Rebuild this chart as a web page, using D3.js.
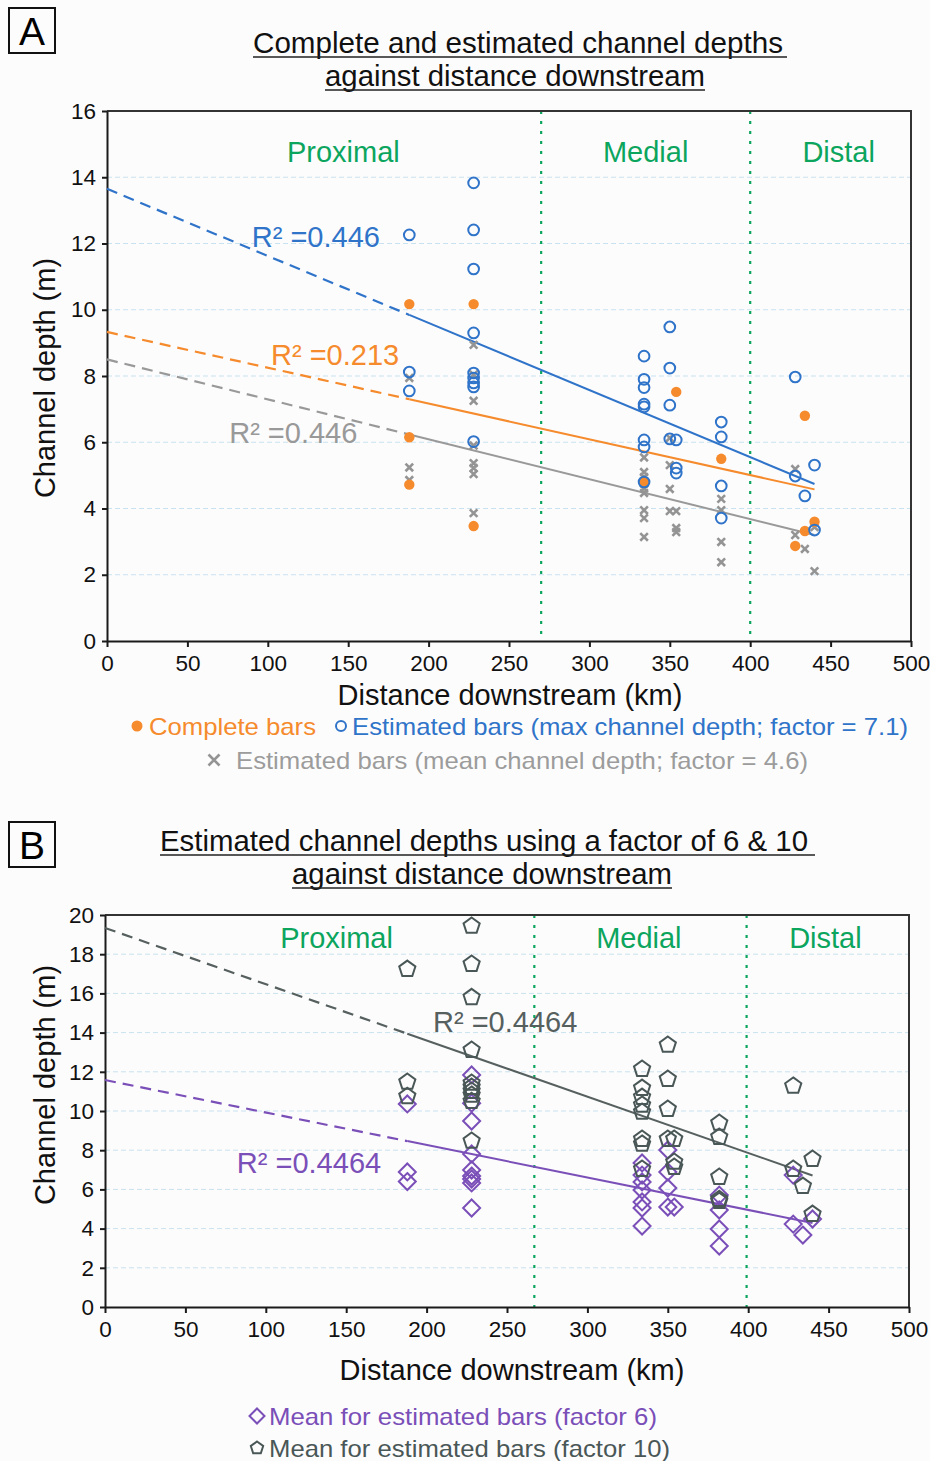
<!DOCTYPE html>
<meta charset="utf-8">
<style>
body { margin: 0; background: #fdfcfd; }
svg { display: block; font-family: "Liberation Sans", Arial, sans-serif; }
.axis path, .axis line { stroke: #1a1a1a; stroke-width: 2px; }
.axis text { font-size: 22.5px; fill: #111; }
.grid line { stroke: #c9e2ef; stroke-width: 1px; stroke-dasharray: 5,3; }
.zone { fill: #0ca55e; font-size: 29px; }
.title { font-size: 29px; fill: #111; }
.axtitle { font-size: 29px; fill: #111; }
.legend { font-size: 24px; }
</style>
<body>
<script src="https://d3js.org/d3.v7.min.js" charset="utf-8"></script>
<script>

// ---- data, panel A (distance km, depth m) ----
var completeBars = [
  [188, 10.17], [188, 6.15], [188, 4.72], [228, 10.17], [228, 3.47],
  [334, 4.8], [354, 7.52], [382, 5.5], [428, 2.87], [434, 6.8], [434, 3.32], [440, 3.6]
];
var maxDepthBars = [
  [188, 12.26], [188, 8.12], [188, 7.55],
  [228, 13.83], [228, 12.41], [228, 11.23], [228, 9.3], [228, 8.09], [228, 7.94], [228, 7.79], [228, 7.67], [228, 6.02],
  [334, 8.6], [334, 7.9], [334, 7.65], [334, 7.15], [334, 7.07], [334, 6.07], [334, 5.86], [334, 4.8],
  [350, 9.48], [350, 8.24], [350, 7.12], [350, 6.1],
  [354, 6.07], [354, 5.22], [354, 5.07],
  [382, 6.61], [382, 6.16], [382, 4.68], [382, 3.71],
  [428, 7.97], [428, 4.98], [434, 4.38], [440, 5.31], [440, 3.35]
];
var meanDepthBars = [
  [188, 7.94], [188, 5.24], [188, 4.86],
  [228, 8.94], [228, 8.04], [228, 7.25], [228, 5.9], [228, 5.37], [228, 5.22], [228, 5.04], [228, 3.86],
  [334, 5.54], [334, 5.1], [334, 4.95], [334, 4.75], [334, 4.6], [334, 4.47], [334, 3.95], [334, 3.71], [334, 3.14],
  [350, 6.13], [350, 5.31], [350, 4.59], [350, 3.92],
  [354, 3.92], [354, 3.41], [354, 3.29],
  [382, 4.29], [382, 3.95], [382, 2.99], [382, 2.38],
  [428, 5.19], [428, 3.2], [434, 2.78], [440, 3.44], [440, 2.11]
];

// ---- data, panel B ----
var factor6Bars = [
  [188, 10.36], [188, 6.89], [188, 6.4],
  [228, 11.84], [228, 10.4], [228, 9.49], [228, 7.81], [228, 6.99], [228, 6.68], [228, 6.53], [228, 6.33], [228, 5.05],
  [334, 7.35], [334, 6.73], [334, 6.38], [334, 5.97], [334, 5.36], [334, 5.05], [334, 4.13],
  [350, 8.01], [350, 6.89], [350, 6.07], [350, 5.1],
  [354, 5.1],
  [382, 5.71], [382, 4.95], [382, 3.98], [382, 3.11],
  [428, 6.73], [428, 4.23], [434, 3.67], [440, 4.49]
];
var factor10Bars = [
  [188, 17.24], [188, 11.48], [188, 10.75],
  [228, 19.44], [228, 17.5], [228, 15.8], [228, 13.11], [228, 11.43], [228, 11.22], [228, 11.02], [228, 10.82], [228, 10.5], [228, 8.47],
  [334, 12.14], [334, 11.17], [334, 10.71], [334, 10.31], [334, 9.95], [334, 8.57], [334, 8.32], [334, 7.04],
  [350, 13.37], [350, 11.63], [350, 10.1], [350, 8.57],
  [354, 8.57], [354, 7.4], [354, 7.14],
  [382, 9.39], [382, 8.67], [382, 6.63], [382, 5.5], [382, 5.4],
  [428, 11.28], [428, 7.04], [434, 6.17], [440, 7.55], [440, 4.74]
];

// trend lines: intercept (m), slope (m/km), r2
var trendMax = { a: 13.65, b: -0.02025, r2: "0.446" };
var trendComplete = { a: 9.33, b: -0.0108, r2: "0.213" };
var trendMean = { a: 8.5, b: -0.01205, r2: "0.446" };
var trendF10 = { a: 19.34, b: -0.0287, r2: "0.4464" };
var trendF6 = { a: 11.58, b: -0.01657, r2: "0.4464" };

var xTicks = [0, 50, 100, 150, 200, 250, 300, 350, 400, 450, 500];
var yTicksA = [0, 2, 4, 6, 8, 10, 12, 14, 16];
var yTicksB = [0, 2, 4, 6, 8, 10, 12, 14, 16, 18, 20];
var zones = ["Proximal", "Medial", "Distal"];
var zoneBoundsA = [270, 400];
var zoneBoundsB = [267, 399];
var trendStart = 188, trendEnd = 440;

var col = {
  blue: "#2f74c9", orange: "#f58b2c", gray: "#949494", purple: "#7a4fb8",
  dark: "#4a5757", green: "#0ca55e"
};

var svg = d3.select("body").append("svg")
    .attr("width", 930)
    .attr("height", 1461);

function pentagon(r) {
  var pts = d3.range(5).map(function(i) {
    var a = -Math.PI / 2 + i * 2 * Math.PI / 5;
    return [r * Math.cos(a), r * Math.sin(a)];
  });
  return "M" + pts.join("L") + "Z";
}
function diamond(r) {
  return "M0," + (-r) + "L" + r + ",0L0," + r + "L" + (-r) + ",0Z";
}
function cross(r) {
  return "M" + (-r) + "," + (-r) + "L" + r + "," + r + "M" + (-r) + "," + r + "L" + r + "," + (-r);
}

function drawPanel(p) {
  var x = d3.scaleLinear().domain([0, 500]).range([p.left, p.right]);
  var y = d3.scaleLinear().domain([0, p.ymax]).range([p.bottom, p.top]);
  var g = svg.append("g");

  // grid
  g.append("g").attr("class", "grid")
    .selectAll("line")
    .data(p.yTicks.filter(function(d) { return d > 0 && d < p.ymax; }))
    .enter().append("line")
    .attr("x1", p.left).attr("x2", p.right)
    .attr("y1", y).attr("y2", y);

  // zone boundaries
  g.selectAll(".zb").data(p.bounds).enter().append("line")
    .attr("x1", x).attr("x2", x)
    .attr("y1", p.top).attr("y2", p.bottom)
    .attr("stroke", col.green).attr("stroke-width", 2.2)
    .attr("stroke-dasharray", "3,7");

  // frame top/right
  g.append("path")
    .attr("d", "M" + p.left + "," + p.top + "H" + p.right + "V" + p.bottom)
    .attr("fill", "none").attr("stroke", "#333").attr("stroke-width", 2);

  // axes
  g.append("g").attr("class", "axis")
    .attr("transform", "translate(0," + p.bottom + ")")
    .call(d3.axisBottom(x).tickValues(xTicks).tickSize(6).tickSizeOuter(0).tickPadding(8));
  g.append("g").attr("class", "axis")
    .attr("transform", "translate(" + p.left + ",0)")
    .call(d3.axisLeft(y).tickValues(p.yTicks).tickSize(5).tickSizeOuter(0).tickPadding(6));

  // zone labels
  g.selectAll(".zone").data(zones).enter().append("text")
    .attr("class", "zone")
    .attr("text-anchor", "middle")
    .attr("x", function(d, i) { return x(p.zoneX[i]); })
    .attr("y", y(p.zoneY))
    .text(function(d) { return d; });

  // trend lines
  p.trends.forEach(function(t) {
    var f = function(k) { return t.a + t.b * k; };
    g.append("line")
      .attr("x1", x(0)).attr("y1", y(f(0)))
      .attr("x2", x(trendStart)).attr("y2", y(f(trendStart)))
      .attr("stroke", t.color).attr("stroke-width", 2.2)
      .attr("stroke-dasharray", "11,7");
    g.append("line")
      .attr("x1", x(trendStart)).attr("y1", y(f(trendStart)))
      .attr("x2", x(trendEnd)).attr("y2", y(f(trendEnd)))
      .attr("stroke", t.color).attr("stroke-width", 2);
    g.append("text")
      .attr("x", x(t.lx)).attr("y", y(t.ly))
      .attr("fill", t.color).attr("font-size", 29)
      .text("R\u00B2 =" + t.r2);
  });

  // points
  p.series.forEach(function(s) {
    g.append("g").selectAll("path")
      .data(s.data).enter().append("path")
      .attr("transform", function(d) { return "translate(" + x(d[0]) + "," + y(d[1]) + ")"; })
      .attr("d", s.shape)
      .attr("fill", s.fill || "none")
      .attr("stroke", s.stroke || "none")
      .attr("stroke-width", s.sw || 0);
  });

  // axis titles
  g.append("text").attr("class", "axtitle")
    .attr("text-anchor", "middle")
    .attr("x", p.xTitleX).attr("y", p.xTitleY)
    .text("Distance downstream (km)");
  g.append("text").attr("class", "axtitle")
    .attr("text-anchor", "middle")
    .attr("transform", "translate(55," + p.yTitleY + ") rotate(-90)")
    .text("Channel depth (m)");
}

function titleBlock(letter, by, lines) {
  svg.append("rect").attr("x", 9).attr("y", by).attr("width", 46).attr("height", 45)
    .attr("fill", "none").attr("stroke", "#111").attr("stroke-width", 2);
  svg.append("text").attr("x", 32).attr("y", by + 37).attr("text-anchor", "middle")
    .attr("font-size", 38).attr("textLength", 26).attr("lengthAdjust", "spacingAndGlyphs")
    .text(letter);
  lines.forEach(function(l) {
    svg.append("text").attr("class", "title")
      .attr("x", l.x).attr("y", l.y)
      .attr("textLength", l.w).attr("lengthAdjust", "spacingAndGlyphs")
      .text(l.t);
    svg.append("line").attr("x1", l.x).attr("x2", l.x + l.uw)
      .attr("y1", l.y + 4).attr("y2", l.y + 4)
      .attr("stroke", "#222").attr("stroke-width", 1.6);
  });
}

// ---------- Panel A ----------
titleBlock("A", 8, [
  { t: "Complete and estimated channel depths", x: 253, y: 53, w: 530, uw: 534 },
  { t: "against distance downstream", x: 325, y: 86, w: 380, uw: 380 }
]);

drawPanel({
  left: 107, right: 911, top: 111, bottom: 641, ymax: 16, yTicks: yTicksA,
  bounds: zoneBoundsA, zoneX: [147, 335, 455], zoneY: 14.45,
  xTitleX: 510, xTitleY: 705, yTitleY: 378,
  trends: [
    Object.assign({ color: col.blue, lx: 90, ly: 11.9 }, trendMax),
    Object.assign({ color: col.orange, lx: 102, ly: 8.33 }, trendComplete),
    Object.assign({ color: "#999", lx: 76, ly: 5.98 }, trendMean)
  ],
  series: [
    { data: meanDepthBars, shape: cross(3.8), stroke: col.gray, sw: 2.6 },
    { data: completeBars, shape: d3.symbol(d3.symbolCircle, 85)(), fill: col.orange },
    { data: maxDepthBars, shape: d3.symbol(d3.symbolCircle, 90)(), stroke: col.blue, sw: 2 }
  ]
});

// legend A
var legA = svg.append("g").attr("class", "legend");
legA.append("circle").attr("cx", 137).attr("cy", 726).attr("r", 5.5).attr("fill", col.orange);
legA.append("text").attr("x", 149).attr("y", 735).attr("fill", col.orange)
  .attr("textLength", 167).attr("lengthAdjust", "spacingAndGlyphs").text("Complete bars");
legA.append("circle").attr("cx", 341).attr("cy", 726).attr("r", 5).attr("fill", "none")
  .attr("stroke", col.blue).attr("stroke-width", 2);
legA.append("text").attr("x", 352).attr("y", 735).attr("fill", col.blue)
  .attr("textLength", 556).attr("lengthAdjust", "spacingAndGlyphs")
  .text("Estimated bars (max channel depth; factor = 7.1)");
legA.append("path").attr("transform", "translate(214,760)").attr("d", cross(5.5))
  .attr("stroke", col.gray).attr("stroke-width", 2.6);
legA.append("text").attr("x", 236).attr("y", 769).attr("fill", "#9c9c9c")
  .attr("textLength", 572).attr("lengthAdjust", "spacingAndGlyphs")
  .text("Estimated bars (mean channel depth; factor = 4.6)");

// ---------- Panel B ----------
titleBlock("B", 822, [
  { t: "Estimated channel depths using a factor of 6 & 10", x: 160, y: 851, w: 648, uw: 655 },
  { t: "against distance downstream", x: 292, y: 884, w: 380, uw: 380 }
]);

drawPanel({
  left: 105, right: 909, top: 915, bottom: 1307, ymax: 20, yTicks: yTicksB,
  bounds: zoneBoundsB, zoneX: [144, 332, 448], zoneY: 18.3,
  xTitleX: 512, xTitleY: 1380, yTitleY: 1085,
  trends: [
    Object.assign({ color: "#56605f", lx: 204, ly: 14.03 }, trendF10),
    Object.assign({ color: col.purple, lx: 82, ly: 6.84 }, trendF6)
  ],
  series: [
    { data: factor6Bars, shape: diamond(8.5), stroke: col.purple, sw: 2 },
    { data: factor10Bars, shape: pentagon(8.5), stroke: col.dark, sw: 2 }
  ]
});

var legB = svg.append("g").attr("class", "legend");
legB.append("path").attr("transform", "translate(257,1416)").attr("d", diamond(7.5))
  .attr("fill", "none").attr("stroke", col.purple).attr("stroke-width", 2);
legB.append("text").attr("x", 269).attr("y", 1425).attr("fill", col.purple)
  .attr("textLength", 388).attr("lengthAdjust", "spacingAndGlyphs")
  .text("Mean for estimated bars (factor 6)");
legB.append("path").attr("transform", "translate(257,1448)").attr("d", pentagon(6.5))
  .attr("fill", "none").attr("stroke", col.dark).attr("stroke-width", 2);
legB.append("text").attr("x", 269).attr("y", 1457).attr("fill", col.dark)
  .attr("textLength", 401).attr("lengthAdjust", "spacingAndGlyphs")
  .text("Mean for estimated bars (factor 10)");

</script>
</body>
